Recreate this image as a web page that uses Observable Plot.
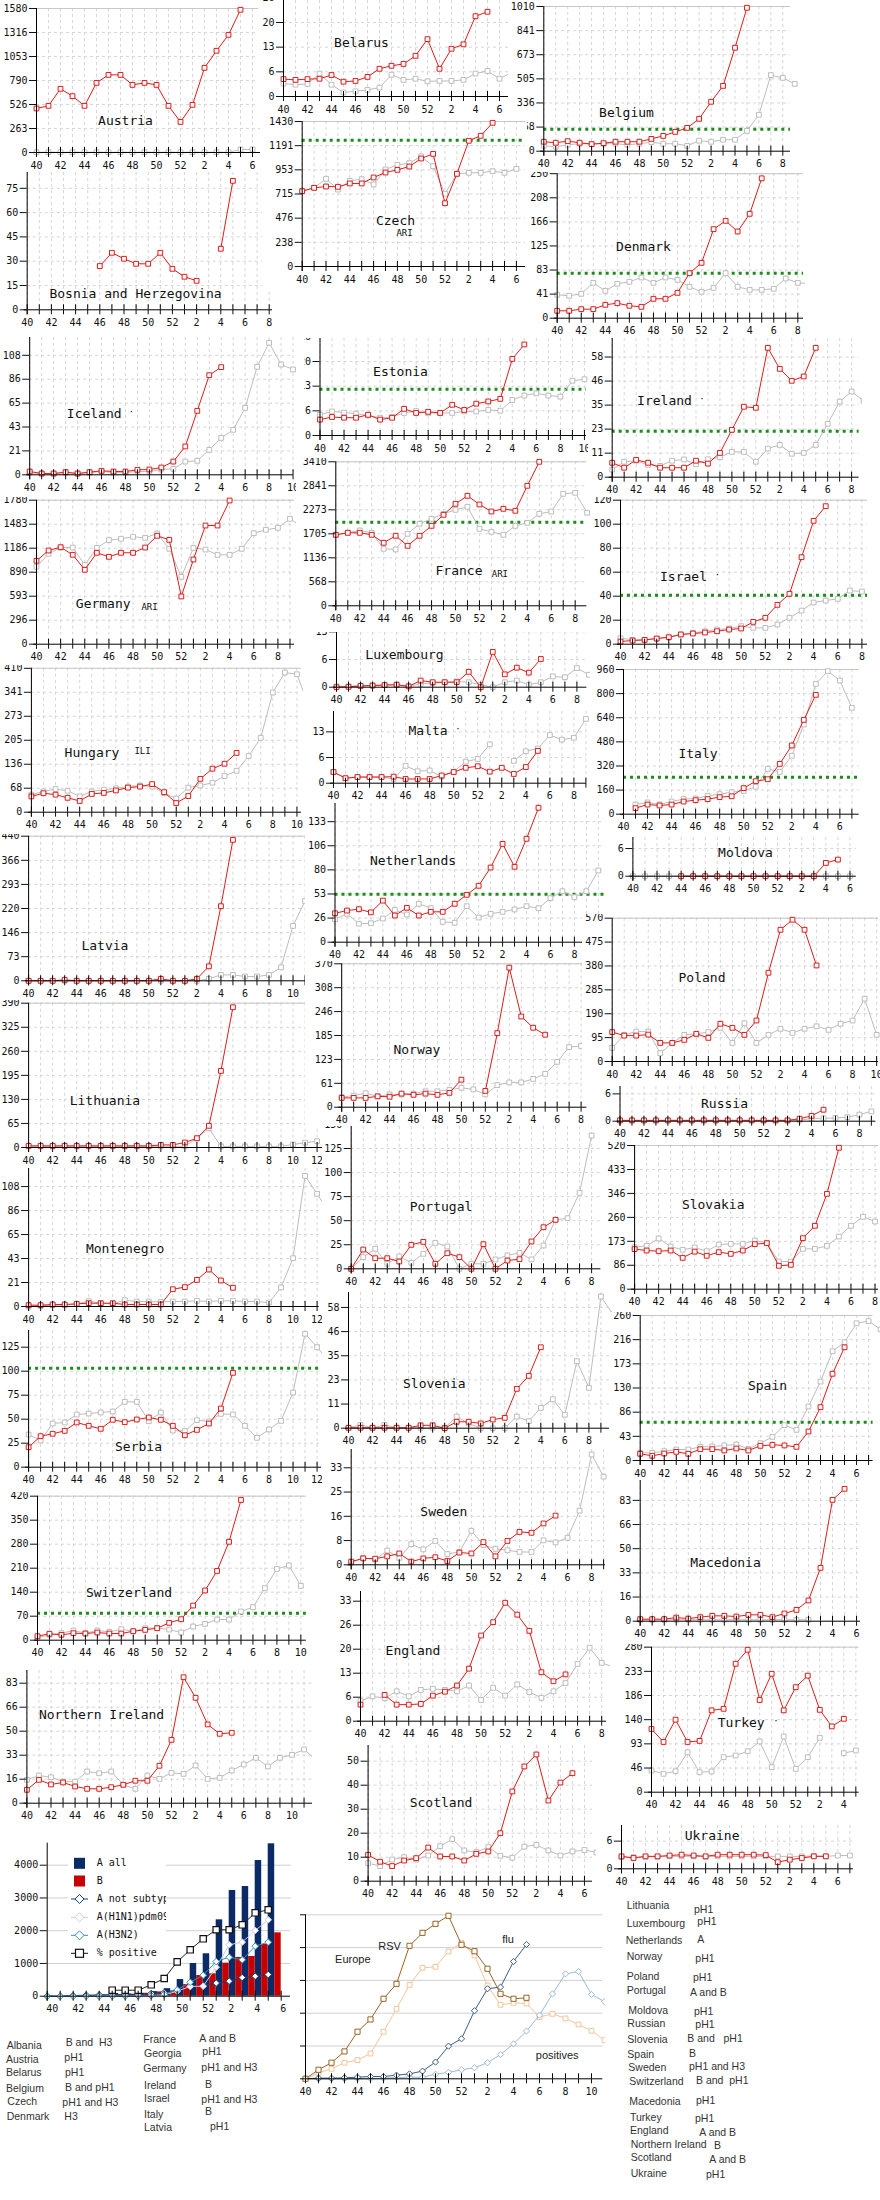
<!DOCTYPE html>
<html><head><meta charset="utf-8">
<script src="https://cdn.jsdelivr.net/npm/d3@7"></script>
<script src="https://cdn.jsdelivr.net/npm/@observablehq/plot@0.6"></script>
<style>
body{margin:0;background:#fff}
#page{position:relative;width:880px;height:2200px;overflow:hidden;background:#fff}
.panel{position:absolute;overflow:hidden;background:#fff}
.panel svg{display:block;background:transparent}
.tx{position:absolute;font:10.5px "Liberation Sans",Arial,sans-serif;color:#333;white-space:pre;line-height:12px}
.tv{background:#fff}
.lg{position:absolute;background:#fff;overflow:hidden;font:10px "DejaVu Sans Mono",monospace;color:#111}
</style></head><body><div id="page"></div>
<script>
// ---------------- DATA (week index 0 = week 40, 12 = week 52, 13 = week 1 ...) ----------------
const austriaRed=[483,512,699,618,512,764,852,852,742,764,742,512,336,523,929,1116,1291,1566];
const austriaGray=[3,3,3,3,3,3,3,3,3,3,3,3,3,3,3,3,3,33,33];
const belarusRed=[4.7,4.5,4.7,4.8,5.8,4.0,4.2,5.3,7.5,8.3,8.8,11.0,15.5,7.5,12.9,14.1,21.7,22.9];
const belarusGray=[3.5,3.2,3.4,6.2,3.2,1.1,1.4,1.8,2.4,5.9,4.5,4.8,4.1,4.2,4.2,4.5,6.2,6.9,4.8,6.5];
const belgiumRed=[66,59,70,59,49,56,66,66,66,86,107,135,163,226,345,456,722,1001];
const belgiumGray=[38,31,45,52,52,52,52,45,52,63,52,52,38,73,66,80,80,142,254,531,512,470];
const bosniaRed=[null,null,null,null,null,null,27.0,35.2,31.5,28.4,28.4,35.2,25.3,20.4,17.9,null,37.7,79.6];
const denmarkRed=[12.8,12.8,15.6,15.6,23.2,26,21.5,19.7,33.6,33.6,43.9,77.9,95.8,154,168.5,150,180.6,242];
const denmarkGray=[40.5,38.8,42.2,61.2,47.4,59.5,63,70.4,61.2,70.4,66.4,54.3,45.7,52.6,77.9,54.3,49.1,49.1,50.9,68.7,61.2,60];
const czechRed=[743,776,789,786,819,819,878,927,953,986,1065,1111,624,914,1240,1289,1417];
const czechGray=[743,776,865,759,845,861,809,957,1003,1019,1085,989,717,914,924,924,940,924,963];
const icelandRed=[3.0,1.2,1.2,2.4,1.2,2.4,3.6,3.0,3.0,4.5,4.8,6.6,12,25.7,58,90.3,97.6];
const icelandGray=[2,1,1,2,1,2,3,2,2,3,3,4.8,5.4,12,12.7,22.6,33.5,40.8,60.7,97.9,119.7,100,95.5];
const estoniaRed=[4.3,5.0,4.8,4.8,5.6,4.3,4.8,7.2,6.1,6.4,6.1,8.3,6.9,8.6,9.2,9.9,20.7,24.6];
const estoniaGray=[5.6,6.5,6.2,5.9,5.4,4.8,5.0,6.1,6.6,6.1,6.1,6.1,6.5,6.5,6.9,6.7,9.6,10.8,11.4,10.8,10.5,14.8,15.2];
const irelandRed=[7.0,4.6,8.4,7.0,4.6,4.6,4.6,8.0,6.6,11.8,23.0,34.2,33.7,62.8,52.6,46.8,48.9,62.8];
const irelandGray=[3.7,7.5,8.0,6.0,5.5,8.0,8.6,6.4,8.7,9.7,12.3,12.3,7.5,13.9,15.7,11.4,11.8,15.7,25.9,36.7,41.6,37];
const germanyRed=[1031,1158,1199,1105,920,1130,1080,1130,1130,1195,1340,1290,590,1047,1467,1467,1776];
const germanyGray=[957,1117,1195,1195,981,1190,1286,1303,1328,1315,1368,1179,833,1190,1170,1105,1105,1179,1372,1414,1439,1550,1450];
const franceRed=[1681,1729,1729,1681,1492,1658,1421,1658,1894,2155,2415,2605,2399,2233,2297,2250,2842,3410];
const franceGray=[1681,1729,1783,1729,1350,1334,1705,1942,2060,2178,2273,2344,1823,1752,1681,1894,1965,2178,2233,2652,2676,2203];
const israelRed=[2.2,3.1,3.6,4.7,5.8,8.1,8.9,9.7,10.8,12.2,13.1,18.6,22,32.8,42,72.5,102.8,115];
const israelGray=[5,3.6,3.6,4.7,5.8,8.1,9.4,10.8,12.2,13.1,15,13.6,13.6,16.4,22,28,34.7,36.4,37.8,44.7,43.9];
const luxembourgRed=[0,0.1,0.3,0.4,0.5,0.6,0.2,1.6,1.2,1.2,1.2,3.7,0,8.5,3.1,4.7,3.5,6.8];
const luxembourgGray=[0.2,0.2,0.4,0.4,0.6,0.6,0.2,0.8,1.0,1.2,1.4,1.2,0.6,0,1.2,1.6,0.6,1.2,2.6,2.4,4.6,3];
const hungaryRed=[45,54,50,41,32,52,55,62,70,73,80,57,26,46,95,124,138,169];
const hungaryGray=[50,59,66,61,45,59,64,68,73,76,73,54,39,70,76,84,103,118,160,212,341,398,393,300];
const maltaRed=[2.9,1.3,1.6,1.6,1.6,1.7,1.1,1.1,1.1,2.0,2.9,4.0,4.4,3.0,4.0,2.4,4.2,8.4];
const maltaGray=[2.9,1.3,1.6,1.6,1.6,1.1,4.5,3.1,3.3,1.7,3.0,5.6,6.3,10.1,null,5.8,8.3,9.0,12.5,11.3,11.8,16.7];
const italyRed=[null,40,64,58,64,84,93,100,113,119,173,219,232,334,456,626,792];
const italyGray=[null,64,78,64,84,100,104,122,133,146,155,182,301,281,388,595,865,949,887,706];
const moldovaRed=[null,null,null,null,0,0,0,0,0,0,0,0,0,0,0,0,3.2,4.0];
const moldovaGray=[0,0,0,0,0,0,0,0,0,0,0,0,0,0,0,0,0,0,0];
const latviaRed=[0,0,0,3,0,0,0,0,0,0,0,6,0,0,6,44,227,429];
const latviaGray=[0,0,0,0,0,0,0,0,0,0,0,0,0,0,0,6,18,18,13,13,18,41,167,243];
const netherlandsRed=[32,35,36.5,33,46,29.5,38,29.5,33.6,33.6,42.5,52.4,62.4,82.6,108.8,83.4,114.4,148.7];
const netherlandsGray=[25.4,31.4,20.4,21,26.2,35.8,30.6,42.5,37.6,22.6,21.5,39.8,27.3,31.4,33.6,36.2,39.8,37.6,48.7,56.4,49.8,56.4,79.3];
const polandRed=[117,103,103,107,74,74,86,110,94,150,134,106,163,353,524,564,524,382];
const polandGray=[54,106,119,119,33,74,106,110,117,134,74,152,74,106,130,114,130,140,126,150,163,250,106];
const lithuaniaRed=[4.5,4.5,4.5,4.5,4.5,4.5,4.5,4.5,4.5,4.5,4.5,7,7,13.5,25,58.6,207,379];
const lithuaniaGray=[3,3,3,3,3,3,3,3,3,3,3,3,3,3,25,52,3,3,3,3,3,3,8,13,17];
const norwayRed=[24,24,24,28,27,35,32,35,32,37,71,null,42,191,360,234,205,187];
const norwayGray=[26,30,36,28,33,33,35,41,41,45,50,46,33,57,64,64,73,86,117,155,158];
const russiaRed=[0.2,0.2,0.2,0.2,0.2,0.2,0.2,0.2,0.2,0.2,0.2,0.2,0.2,0.2,0.2,0.6,1.3,2.8];
const russiaGray=[0.2,0.2,0.2,0.2,0.2,0.2,0.2,0.2,0.2,0.2,0.2,0.2,0.2,0.2,0.2,0.2,0.7,0.7,0.8,1.0,1.6,2.4];
const montenegroRed=[1.2,1.2,1.8,1.8,2.4,3,3,3,1.8,1.8,1.8,1.8,15.6,17.5,24,33.4,23.5,16.9];
const montenegroGray=[0,0.6,1.2,1.2,2.4,4.8,3,2.4,5.7,4.5,4.5,4.2,4.5,4.5,5.1,4.5,5.1,5.1,4.5,4.5,3.6,17.2,43.6,118,101.8,85];
const portugalRed=[0,20,11,11,7.6,24.9,28,5.2,16.2,12.1,0,25.6,0,8.6,10,28.4,43.2,50.9];
const portugalGray=[0,12.1,20.8,5.2,12.8,6.2,15.6,27,23.2,0,5.2,5.2,9.7,13.9,16.6,9.7,24.2,50.9,52.6,79,138.5];
const slovakiaRed=[145,140,137.5,140,113.6,136,121,134,128,140,163,166.5,84.7,88.3,184.6,229.5,345,512];
const slovakiaGray=[152,157,183.5,154.5,142.6,151,137.5,161.8,164,164,176,168,100,100,146,146,157,190.6,229.5,262,245];
const serbiaRed=[20.8,32.3,34.8,37.9,46.6,43.1,40,49.4,46.9,49.7,51.8,49.4,43.1,33.3,38.9,45.5,61.1,98.3];
const serbiaGray=[34,27.8,45.5,46.6,54.9,55.9,57,58,68.1,68.1,47.9,57,38.2,37.5,49,47.6,55.6,54.9,43.1,30.6,39.3,48.3,77.8,139,125,110];
const sloveniaRed=[0.2,0.2,0.2,0.2,0.2,0.2,1.4,1.4,0,3.1,3.1,2.3,4.2,5.0,19,25.3,39.1];
const sloveniaGray=[0.2,1.6,0.2,1.6,0.2,0.2,0.2,0.2,0.2,5.6,2.3,0,0,0,5.6,3.4,9.8,14,6.5,32.4,19.5,63.6,55];
const spainRed=[12,8.4,12.5,15.5,12,20.3,20.3,18,21.5,18,26.3,28.1,27,24.5,52,95.6,155.5,203];
const spainGray=[13.7,13.7,16.7,19.7,19.7,24.5,25,27,28.7,21,31,42.4,63.3,55,96.8,141.6,195.8,212,246,250,235];
const switzerlandRed=[11.7,18.7,15.6,20.4,19.4,22.4,19.4,19.4,26.2,30.1,35,50.7,61.2,101,145,202,287,409];
const switzerlandGray=[6.8,15.6,20.4,28.3,20.4,28.3,24.4,32,26.2,35,36,31.1,22.4,40,47.7,60.3,60.3,83.7,96.2,151.7,208,217.8,158.6];
const swedenRed=[1.1,2.2,2.1,2.9,3.9,1.1,2.2,2.6,1.3,4.2,3.9,7.8,2.9,8.2,11.3,11,14.2,16.9];
const swedenGray=[0.7,2.4,1.8,4.9,2.4,7.1,5.3,8.2,3.7,4.4,11.7,6.8,5.5,5.0,4.4,4.4,8.4,7.7,9.3,18.6,37.9,30.3];
const macedoniaRed=[1.4,1.4,1.4,2.5,1.8,2.8,3.7,3.7,3.2,4.4,4.4,2.8,5.3,7.8,14.3,36.8,83.7,91.3];
const macedoniaGray=[1,1,1,1,1,1,1,1,1,1,1,1,1,1,1];
const englandRed=[4.6,null,7.3,4.6,4.6,4.8,7.1,8.2,9.9,14.6,23.8,27.5,32.9,29.6,25.1,13.6,11.1,13];
const englandGray=[5.6,6.9,6.4,8.3,6.9,8.7,9.0,8.7,8.3,9.9,5.9,9.3,7.1,10.2,8.1,6.5,8.3,10.6,15.9,20.4,16.2,15];
const turkeyRed=[122,97,140,97,99,158,161,248,275,178,228.6,158,202.7,225,159,127,141.7];
const turkeyGray=[42,35.5,40.5,77,38.6,40,67.6,70.8,79,98,48.3,107.5,45,67.6,105,null,75.3,80.5];
const nIrelandRed=[9.3,16.2,13,14.4,11.6,10,10,11.1,12.8,15.6,15.6,26,44,87.5,73.2,54.7,48.2,48.9];
const nIrelandGray=[16.2,19.2,18,15,15,22,20.8,22,12.8,10,19.2,16.9,21.1,20.4,26.2,16.9,17.6,22.7,26.9,31.5,25.5,31.5,33.6,37.3,30];
const scotlandRed=[11,8.1,6.3,8.6,9.6,14,10.3,10.3,8.6,11.4,12.4,20,37.4,47.8,52.8,33.6,41.1,45];
const scotlandGray=[7.5,6.3,9,10,9,10.7,14.6,17.5,12.8,12.1,14.2,10.6,9.8,14.4,15.1,12.8,10.7,12.4,13,12];
const ukraineRed=[3.0,2.6,3.0,3.0,3.2,3.4,3.2,3.0,3.4,3.4,3.4,3.4,3.3,1.6,2.2,2.6,3.0,3.0];
const ukraineGray=[2.8,2.8,2.9,2.9,3.0,3.0,3.0,2.9,3.0,3.0,3.0,3.0,3.0,3.0,3.0,3.0,3.1,3.0,3.2,3.2];

// Europe virology bar chart
const aAll=[10,10,15,20,30,80,70,90,140,230,509,998,1295,2332,3227,3349,4143,4653];
const bAll=[5,5,10,10,10,40,60,90,130,160,357,631,684,1008,1181,1212,1578,1935];
const pctPositive=[null,null,null,null,null,183,183,183,348,540,1049,1417,1753,2028,2028,2180,2547,2638];
const aNotSubtyped=[0,0,20,30,40,50,45,45,80,110,180,280,330,400,460,570,610,660];
const aH1N1=[0,0,0,0,0,5,5,10,20,40,153,300,305,886,1570,1650,2005,2332];
const aH3N2=[0,0,0,0,0,5,5,10,20,60,193,427,641,1059,1191,1110,1527,1650];
const legendLabels=["A all","B","A not subtyped","A(H1N1)pdm09","A(H3N2)","% positive"];
// Europe RSV vs flu
const rsvDark=[0,55,98,167,287,362,488,579,811,890,945,994,817,778,671,518,488,494];
const rsvLight=[0,35,61,98,114,154,287,427,573,677,683,776,829,752,569,451,463,459,376,396,368,331,293,235];
const fluDark=[0,4,4,6,10,14,14,22,30,47,102,199,244,415,549,559,715,819];
const fluPositives=[0,0,0,0,0,0,4,8,10,10,28,39,55,67,98,148,213,291,388,518,640,654,514,470];
// Dominant virus tables
const tableLeftNames=["Albania","Austria","Belarus","Belgium","Czech","Denmark"];
const tableLeftValues=["B and  H3","pH1","pH1","B and pH1","pH1 and H3","H3"];
const tableMidNames=["France","Georgia","Germany","Ireland","Israel","Italy","Latvia"];
const tableMidValues=["A and B","pH1","pH1 and H3","B","pH1 and H3","B","pH1"];
const tableRightNames=["Lithuania","Luxembourg","Netherlands","Norway","Poland","Portugal","Moldova","Russian","Slovenia","Spain","Sweden","Switzerland","Macedonia","Turkey","England","Northern Ireland","Scotland","Ukraine"];
const tableRightValues=["pH1","pH1","A","pH1","pH1","A and B","pH1","pH1","B and   pH1","B","pH1 and H3","B and  pH1","pH1","pH1","A and B","B","A and B","pH1"];

// ---------------- LAYOUT ----------------
const RED="#dd1c1c", GRAY="#bdbdbd", GRID="#d6d6d6", GREEN="#1c8c1c", MONO="DejaVu Sans Mono";
const panels=[
 {label:"Austria",red:austriaRed,gray:austriaGray,L:0,T:0,R:264,B:176,ax:36,step:12,y0:152,ymax:1580,ppu:0.09114,top:1,end:260,lx:125,ly:120},
 {label:"Belarus",red:belarusRed,gray:belarusGray,L:258,T:0,R:508,B:116,ax:283,step:12,y0:96,ymax:40,ppu:3.7,top:0,end:508,lx:361,ly:42},
 {label:"Belgium",red:belgiumRed,gray:belgiumGray,thr:154,L:508,T:0,R:800,B:172,ax:543.3,step:11.95,y0:150.7,ymax:1010,ppu:0.14327,top:1,end:790,lx:626,ly:112},
 {label:"Bosnia and Herzegovina",red:bosniaRed,gray:[],L:0,T:172,R:275,B:330,ax:26.7,step:12.1,y0:309.3,ymax:90,ppu:1.62,top:0,end:272,lx:135,ly:293},
 {label:"Denmark",red:denmarkRed,gray:denmarkGray,thr:77.9,L:527,T:172,R:805,B:338,ax:556.7,step:12.03,y0:317.7,ymax:250,ppu:0.578,top:1,end:803,lx:643,ly:246},
 {label:"Czech",sub:"ARI",sx:404,sy:233,red:czechRed,gray:czechGray,thr:1246,L:262,T:116,R:527,B:290,ax:301.7,step:11.9,y0:266,ymax:1430,ppu:0.1014,top:1,end:525,lx:395,ly:220},
 {label:"Iceland",sub:"·",sx:131,sy:412,red:icelandRed,gray:icelandGray,L:0,T:337,R:296,B:497,ax:29.2,step:11.97,y0:474.3,ymax:130,ppu:1.103,top:0,end:293,lx:93.7,ly:413.3},
 {label:"Estonia",red:estoniaRed,gray:estoniaGray,thr:12.5,L:304,T:338,R:588,B:458,ax:319.5,step:12.02,y0:435,ymax:40,ppu:3.7,top:0,end:586,lx:400,ly:371},
 {label:"Ireland",sub:"·",sx:701.5,sy:399,red:irelandRed,gray:irelandGray,thr:22.3,L:590,T:338,R:862,B:498,ax:611.7,step:11.97,y0:476.7,ymax:70,ppu:2.06,top:0,end:858.6,lx:664,ly:400},
 {label:"Germany",sub:"ARI",sx:149,sy:607,red:germanyRed,gray:germanyGray,L:0,T:497,R:296,B:665,ax:36,step:12.07,y0:643.7,ymax:1780,ppu:0.0809,top:1,end:294,lx:102.7,ly:603.7},
 {label:"France",sub:"ARI",sx:499.4,sy:573.5,red:franceRed,gray:franceGray,thr:1980,L:298,T:458,R:590,B:628,ax:335.3,step:11.97,y0:605.3,ymax:3410,ppu:0.04223,top:1,end:586.4,lx:458.5,ly:570.7},
 {label:"Israel",sub:"·",sx:717,sy:575,red:israelRed,gray:israelGray,thr:40.8,L:590,T:497,R:870,B:665,ax:620,step:12.07,y0:643.7,ymax:120,ppu:1.2,top:1,end:867,lx:683,ly:576.7},
 {label:"Luxembourg",red:luxembourgRed,gray:luxembourgGray,L:300,T:632,R:590,B:710,ax:336,step:12.02,y0:686.7,ymax:40,ppu:4.15,top:0,end:586.4,lx:404,ly:654},
 {label:"Hungary",sub:"ILI",sx:142,sy:750.7,red:hungaryRed,gray:hungaryGray,L:0,T:665,R:303,B:834,ax:30.9,step:12.07,y0:811.7,ymax:410,ppu:0.351,top:1,end:301,lx:91.5,ly:752.3},
 {label:"Malta",sub:"·",sx:457.4,sy:729,red:maltaRed,gray:maltaGray,L:303,T:711,R:590,B:805,ax:333,step:12.02,y0:782.7,ymax:40,ppu:3.85,top:0,end:586,lx:427.6,ly:730},
 {label:"Italy",red:italyRed,gray:italyGray,thr:245,L:592,T:665,R:862,B:836,ax:623,step:12.02,y0:813.7,ymax:960,ppu:0.1507,top:1,end:858.6,lx:697.5,ly:753.3},
 {label:"Moldova",red:moldovaRed,gray:moldovaGray,L:605,T:837,R:862,B:898,ax:632.4,step:12.06,y0:875.7,ymax:40,ppu:4.15,top:0,end:855.8,lx:745,ly:852},
 {label:"Latvia",red:latviaRed,gray:latviaGray,L:0,T:834,R:309,B:1000,ax:28.1,step:12.02,y0:980.3,ymax:440,ppu:0.3286,top:1,end:307.5,lx:104.4,ly:945.3},
 {label:"Netherlands",red:netherlandsRed,gray:netherlandsGray,thr:53,L:305,T:803,R:605,B:962,ax:334.5,step:11.97,y0:941.7,ymax:160,ppu:0.904,top:0,end:605,lx:412.5,ly:860},
 {label:"Lithuania",red:lithuaniaRed,gray:lithuaniaGray,L:0,T:1000,R:325,B:1168,ax:28.1,step:12.02,y0:1147,ymax:390,ppu:0.37,top:1,end:322.7,lx:104.4,ly:1100},
 {label:"Norway",red:norwayRed,gray:norwayGray,L:305,T:961,R:590,B:1127,ax:341.2,step:11.97,y0:1106.7,ymax:370,ppu:0.3876,top:1,end:586.4,lx:416.4,ly:1049.3},
 {label:"Poland",red:polandRed,gray:polandGray,L:582,T:914,R:880,B:1084,ax:611.7,step:12.02,y0:1061,ymax:570,ppu:0.2514,top:1,end:878,lx:701.5,ly:977.7},
 {label:"Russia",red:russiaRed,gray:russiaGray,L:600,T:1086,R:880,B:1142,ax:619.5,step:11.97,y0:1120.7,ymax:40,ppu:4.1,top:0,end:875.4,lx:724,ly:1103.3},
 {label:"Montenegro",red:montenegroRed,gray:montenegroGray,L:0,T:1168,R:322,B:1329,ax:28.1,step:12.02,y0:1306,ymax:130,ppu:1.107,top:0,end:318.7,lx:124.6,ly:1248.3},
 {label:"Portugal",red:portugalRed,gray:portugalGray,L:322,T:1126,R:604,B:1291,ax:350.7,step:12.02,y0:1268.3,ymax:150,ppu:0.9624,top:0,end:600.4,lx:440.5,ly:1206},
 {label:"Slovakia",red:slovakiaRed,gray:slovakiaGray,L:605,T:1142,R:880,B:1311,ax:634.1,step:12.02,y0:1288.7,ymax:520,ppu:0.2763,top:1,end:878,lx:712.7,ly:1204},
 {label:"Serbia",red:serbiaRed,gray:serbiaGray,thr:103,L:0,T:1330,R:324,B:1490,ax:28.1,step:12.02,y0:1466.7,ymax:150,ppu:0.96,top:0,end:321,lx:138,ly:1446.7},
 {label:"Slovenia",red:sloveniaRed,gray:sloveniaGray,L:322,T:1292,R:612,B:1450,ax:348,step:12.02,y0:1427.7,ymax:70,ppu:2.07,top:0,end:609,lx:433.8,ly:1383.3},
 {label:"Spain",red:spainRed,gray:spainGray,thr:68.7,L:610,T:1312,R:880,B:1482,ax:639.7,step:12.02,y0:1460,ymax:260,ppu:0.5577,top:1,end:872.6,lx:767,ly:1385.3},
 {label:"Switzerland",red:switzerlandRed,gray:switzerlandGray,thr:78.7,L:0,T:1492,R:310,B:1662,ax:37,step:11.97,y0:1639.7,ymax:420,ppu:0.3429,top:1,end:305.8,lx:128.5,ly:1592.3},
 {label:"Sweden",red:swedenRed,gray:swedenGray,L:322,T:1449,R:610,B:1588,ax:350.7,step:12.02,y0:1564.3,ymax:50,ppu:2.91,top:0,end:605,lx:443.3,ly:1511.7},
 {label:"Macedonia",red:macedoniaRed,gray:macedoniaGray,L:610,T:1480,R:865,B:1643,ax:639.7,step:12.02,y0:1620.7,ymax:100,ppu:1.45,top:0,end:860,lx:725,ly:1562.3},
 {label:"England",red:englandRed,gray:englandGray,L:330,T:1591,R:610,B:1743,ax:360,step:12.06,y0:1720.7,ymax:40,ppu:3.6,top:0,end:606,lx:412.5,ly:1650},
 {label:"Turkey",sub:"·",sx:775.5,sy:1721,red:turkeyRed,gray:turkeyGray,L:615,T:1644,R:862,B:1814,ax:651,step:12.02,y0:1791.7,ymax:280,ppu:0.518,top:1,end:858.6,lx:740.7,ly:1722.7},
 {label:"Northern Ireland",red:nIrelandRed,gray:nIrelandGray,L:0,T:1670,R:312,B:1825,ax:26.4,step:12.05,y0:1802.7,ymax:100,ppu:1.44,top:0,end:312,lx:101,ly:1714.7},
 {label:"Scotland",red:scotlandRed,gray:scotlandGray,L:338,T:1745,R:596,B:1902,ax:367.6,step:12.02,y0:1880.7,ymax:60,ppu:2.4,top:0,end:592,lx:440.5,ly:1802.3},
 {label:"Ukraine",red:ukraineRed,gray:ukraineGray,L:605,T:1825,R:858,B:1892,ax:621,step:12.02,y0:1868.3,ymax:40,ppu:4.15,top:0,end:853,lx:711.6,ly:1835.7}
];

const page=document.getElementById("page");
const weekFmt=i=>(i%2===0?String(i<=12?40+i:i-12):"");
const rows=a=>a.map((v,i)=>({i,v}));
const pts=a=>rows(a).filter(d=>d.v!=null);

function box(L,T,R,B){const d=document.createElement("div");d.className="panel";
 d.style.left=L+"px";d.style.top=T+"px";d.style.width=(R-L)+"px";d.style.height=(B-T)+"px";page.appendChild(d);return d;}

function series(arr,color,marks,sym,r){
 marks.push(Plot.line(rows(arr),{x:"i",y:"v",stroke:color,strokeWidth:1}));
 marks.push(Plot.dot(pts(arr),{x:"i",y:"v",symbol:sym||"square",r:r||2.7,fill:"white",stroke:color,strokeWidth:1}));
}

function drawPanel(p){
 const W=p.R-p.L,H=p.B-p.T,x0=p.ax-p.L,yb=p.y0-p.T;
 const mTop=p.top?Math.max(0,yb-p.ymax*p.ppu):0;
 const N=Math.floor((p.end-p.ax)/p.step+1e-6);
 const xt=d3.range(0,N+1), yt=d3.range(0,7).map(k=>p.ymax*k/6);
 const marks=[
  Plot.gridX(xt,{stroke:GRID,strokeOpacity:1,strokeDasharray:"3,3"}),
  Plot.gridY(yt.slice(1),{stroke:GRID,strokeOpacity:1,strokeDasharray:"3,3"})
 ];
 if(p.top) marks.push(Plot.ruleY([p.ymax],{stroke:"#c6c6c6"}));
 if(p.thr!=null) marks.push(Plot.ruleY([p.thr],{stroke:GREEN,strokeWidth:3,strokeDasharray:"3,4"}));
 marks.push(Plot.text([p.label],{x:(p.lx-p.ax)/p.step,y:(p.y0-p.ly)/p.ppu,text:d=>d,fontFamily:MONO,fontSize:13,fill:"#111"}));
 if(p.sub) marks.push(Plot.text([p.sub],{x:(p.sx-p.ax)/p.step,y:(p.y0-p.sy)/p.ppu,text:d=>d,fontFamily:MONO,fontSize:9,fill:"#111"}));
 if(p.gray.length) series(p.gray,GRAY,marks);
 series(p.red,RED,marks);
 marks.push(
  Plot.ruleY([0],{stroke:"#000",insetLeft:-3}),
  Plot.ruleX([0],{stroke:"#000",insetBottom:-5}),
  Plot.ruleX(xt,{x:d=>d,y1:0,y2:5/p.ppu,stroke:"#000"}),
  Plot.axisX(xt,{tickFormat:weekFmt,tickSize:5,tickPadding:4,label:null}),
  Plot.axisY(yt,{tickFormat:v=>String(Math.floor(v+1e-6)),tickSize:7,tickPadding:2,label:null})
 );
 const svg=Plot.plot({width:W,height:H,marginLeft:x0,marginRight:p.R-p.end,marginTop:mTop,marginBottom:p.B-p.y0,
  x:{type:"linear",domain:[0,1],range:[x0,x0+p.step],label:null},
  y:{type:"linear",domain:[0,1],range:[yb,yb-p.ppu],label:null},
  style:{fontFamily:MONO,fontSize:"10px",color:"#111",background:"transparent"},marks});
 box(p.L,p.T,p.R,p.B).appendChild(svg);
}
panels.forEach(drawPanel);

// ---- Europe bar chart ----
(function(){
 const L=0,T=1838,R=296,B=2015,ax=46.7,step=13,y0=1995.7,ppu=0.03275,end=290.7;
 const x0=ax-L,yb=y0-T,N=18,xt=d3.range(0,N+1);
 const marks=[
  Plot.gridY([1000,2000,3000,4000],{stroke:"#d0d0d0",strokeOpacity:1}),
  Plot.rect(rows(aAll),{x1:d=>d.i,x2:d=>d.i+0.5,y1:0,y2:"v",fill:"#0c2a66"}),
  Plot.rect(rows(bAll),{x1:d=>d.i+0.5,x2:d=>d.i+1,y1:0,y2:"v",fill:"#c40000"})
 ];
 series(aNotSubtyped,"#1d3d6b",marks,"diamond2",3);
 series(aH1N1,"#c9cde9",marks,"diamond2",3);
 series(aH3N2,"#3a8fb8",marks,"diamond2",3);
 marks.push(Plot.line(rows(pctPositive),{x:"i",y:"v",stroke:"#222",strokeWidth:1}));
 marks.push(Plot.dot(pts(pctPositive),{x:"i",y:"v",symbol:"square",r:3.6,fill:"white",stroke:"#111",strokeWidth:1.2}));
 marks.push(
  Plot.ruleY([0],{stroke:"#000"}),
  Plot.ruleX([0],{stroke:"#000",insetBottom:-5}),
  Plot.ruleX(xt,{x:d=>d,y1:0,y2:5/ppu,stroke:"#000"}),
  Plot.axisX(xt,{tickFormat:()=>"",tickSize:5,label:null}),
  Plot.text(xt.filter(i=>i%2===0),{x:d=>d,y:0,dy:13,dx:-1,text:weekFmt,textAnchor:"start",fontFamily:MONO,fontSize:10,fill:"#111"}),
  Plot.axisY([0,1000,2000,3000,4000],{tickFormat:d=>String(d),tickSize:7,tickPadding:2,label:null})
 );
 const svg=Plot.plot({width:R-L,height:B-T,marginLeft:x0,marginRight:R-end,marginTop:1842.7-T,marginBottom:B-y0,
  x:{type:"linear",domain:[0,1],range:[x0,x0+step],label:null},
  y:{type:"linear",domain:[0,1],range:[yb,yb-ppu],label:null},
  style:{fontFamily:MONO,fontSize:"10px",color:"#111",background:"transparent"},marks});
 box(L,T,R,B).appendChild(svg);
 // legend
 const lg=document.createElement("div");lg.className="lg";
 lg.style.left="68px";lg.style.top="1854px";lg.style.width="98px";lg.style.height="108px";
 const sw=[
  '<rect x="6" y="-5.5" width="11" height="11" fill="#0c2a66"/>',
  '<rect x="6" y="-5.5" width="11" height="11" fill="#c40000"/>',
  '<line x1="3" x2="20" y1="0" y2="0" stroke="#1d3d6b"/><path d="M11.5,-4.5L16,0L11.5,4.5L7,0Z" fill="#fff" stroke="#1d3d6b"/>',
  '<line x1="3" x2="20" y1="0" y2="0" stroke="#c9cde9"/><path d="M11.5,-4.5L16,0L11.5,4.5L7,0Z" fill="#fff" stroke="#c9cde9"/>',
  '<line x1="3" x2="20" y1="0" y2="0" stroke="#3a8fb8"/><path d="M11.5,-4.5L16,0L11.5,4.5L7,0Z" fill="#fff" stroke="#3a8fb8"/>',
  '<line x1="3" x2="20" y1="0" y2="0" stroke="#111"/><rect x="7.5" y="-4" width="8" height="8" fill="#fff" stroke="#111" stroke-width="1.2"/>'
 ];
 const ys=[9.3,27,45,63.3,81.3,99.3];
 let html='<svg width="26" height="108" style="position:absolute;left:0;top:0">';
 sw.forEach((s,k)=>{html+='<g transform="translate(0,'+ys[k]+')">'+s+'</g>';});
 html+='</svg>';
 legendLabels.forEach((t,k)=>{html+='<div style="position:absolute;left:28.7px;top:'+(ys[k]-7)+'px;white-space:pre;line-height:14px">'+t+'</div>';});
 lg.innerHTML=html;page.appendChild(lg);
})();

// ---- Europe RSV / flu chart ----
(function(){
 const L=290,T=1905,R=605,B=2100,ax=305,step=13,y0=2078.3,ppu=0.164,end=602.3;
 const x0=ax-L,yb=y0-T,N=22,xt=d3.range(0,N+1),SANS="Liberation Sans";
 const marks=[Plot.gridY([200,400,600,800,1000],{stroke:"#d0d0d0",strokeOpacity:1})];
 series(rsvLight,"#f2c59c",marks,"square",2.7);
 series(fluPositives,"#9dbad9",marks,"diamond2",2.8);
 series(fluDark,"#3c5e86",marks,"diamond2",2.8);
 series(rsvDark,"#996528",marks,"square",2.9);
 const lab=(t,px,py)=>Plot.text([t],{x:(px-ax)/step,y:(y0-py)/ppu,text:d=>d,fontFamily:SANS,fontSize:11,fill:"#222"});
 marks.push(lab("Europe",352.3,1959.3),lab("RSV",389,1946),lab("flu",507.5,1938.7),lab("positives",556.7,2055));
 marks.push(
  Plot.ruleY([0],{stroke:"#000"}),
  Plot.ruleX([0],{stroke:"#000"}),
  Plot.ruleX(xt,{x:d=>d,y1:0,y2:5/ppu,stroke:"#000"}),
  Plot.axisX(xt,{tickFormat:weekFmt,tickSize:5,tickPadding:4,label:null}),
  Plot.axisY([0,200,400,600,800,1000],{tickFormat:()=>"",tickSize:5,label:null})
 );
 const svg=Plot.plot({width:R-L,height:B-T,marginLeft:x0,marginRight:R-end,marginTop:yb-1000*ppu,marginBottom:B-y0,
  x:{type:"linear",domain:[0,1],range:[x0,x0+step],label:null},
  y:{type:"linear",domain:[0,1],range:[yb,yb-ppu],label:null},
  style:{fontFamily:MONO,fontSize:"10px",color:"#111",background:"transparent"},marks});
 box(L,T,R,B).appendChild(svg);
})();

// ---- text tables ----
function addText(t,x,yc,cls){const d=document.createElement("div");d.className="tx"+(cls?" "+cls:"");d.textContent=t;d.style.left=x+"px";d.style.top=(yc-6.5)+"px";page.appendChild(d);}
const leftNamePos=[[6.7,2045.7],[6,2059.7],[6,2072.7],[6,2088.7],[7.3,2101.7],[6.7,2116.7]];
const leftValPos=[[65.7,2042.7],[64.3,2057.7],[65,2072.7],[65,2087.7],[62.3,2102.7],[64.3,2116.7]];
const midNamePos=[[143.3,2039.3],[144,2053.7],[143.3,2068.7],[144,2085.7],[144,2098.7],[144,2114],[144,2127.7]];
const midValPos=[[199.3,2038.7],[202.3,2051],[201.3,2067.7],[205,2084.3],[201.3,2099.3],[205,2111.7],[210,2126.7]];
const rightNamePos=[[626.7,1905.7],[626.7,1923],[625.7,1940.7],[626.7,1956.7],[626.7,1976.7],[626.7,1990.7],[628.3,2010.7],[627.3,2023.7],[627.3,2039.7],[627.3,2054.3],[628.3,2067.7],[629.3,2081.7],[629.3,2101.7],[630,2117],[630,2130.7],[630.7,2144],[630.7,2157.7],[630.7,2173.3]];
const rightValPos=[[694,1909.3],[697.3,1921],[697.3,1939],[695.3,1958],[693,1977.7],[690,1992.7],[694,2011.7],[695.3,2024.7],[687.3,2038.3],[689,2053.3],[689,2066],[696,2080.3],[696,2100.7],[695,2118],[699.3,2132.7],[714,2145.3],[709.3,2159.3],[706,2174]];
tableLeftNames.forEach((t,k)=>addText(t,leftNamePos[k][0],leftNamePos[k][1]));
tableLeftValues.forEach((t,k)=>addText(t,leftValPos[k][0],leftValPos[k][1],"tv"));
tableMidNames.forEach((t,k)=>addText(t,midNamePos[k][0],midNamePos[k][1]));
tableMidValues.forEach((t,k)=>addText(t,midValPos[k][0],midValPos[k][1],"tv"));
tableRightNames.forEach((t,k)=>addText(t,rightNamePos[k][0],rightNamePos[k][1]));
tableRightValues.forEach((t,k)=>addText(t,rightValPos[k][0],rightValPos[k][1],"tv"));
</script></body></html>
